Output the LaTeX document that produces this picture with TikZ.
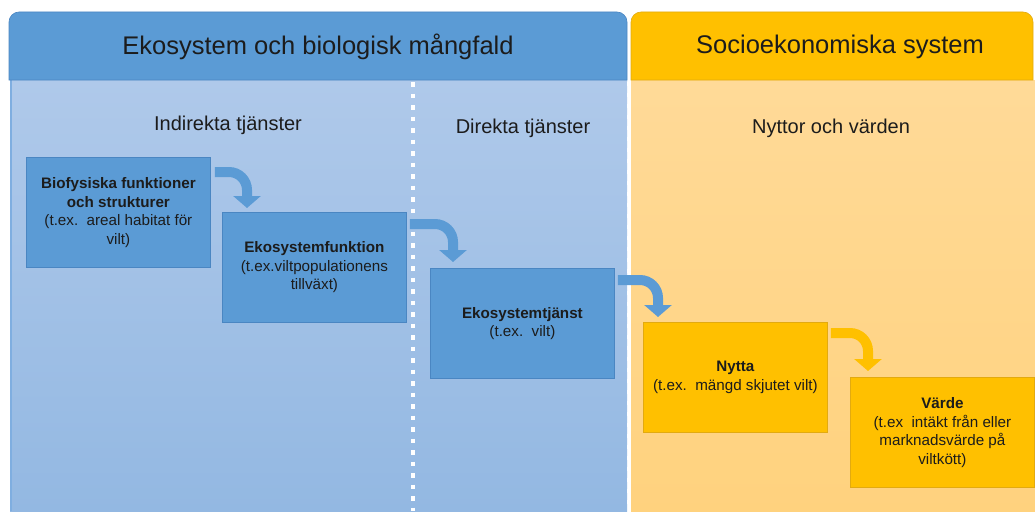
\documentclass[tikz,border=0pt]{standalone}
\usepackage{fontspec}
\setmainfont{Liberation Sans}
\usepackage{tikz}
\usetikzlibrary{arrows.meta,positioning}
\definecolor{blueHead}{HTML}{5B9BD5}
\definecolor{blueLine}{HTML}{4A86C2}
\definecolor{blueTop}{HTML}{AFC9EA}
\definecolor{blueBot}{HTML}{93B8E2}
\definecolor{blueEdge}{HTML}{7FAEE0}
\definecolor{yelHead}{HTML}{FFC000}
\definecolor{yelLine}{HTML}{E2AA10}
\definecolor{yelTop}{HTML}{FFDA98}
\definecolor{yelBot}{HTML}{FFD27E}
\definecolor{txt}{HTML}{1C1C1C}
\tikzset{
  panelhead/.style={font=\fontsize{25.5}{30}\selectfont, text=txt},
  subhead/.style={font=\fontsize{20}{24}\selectfont, text=txt},
  tbox/.style={minimum width=184pt, minimum height=110pt, anchor=north west,
    align=center, inner sep=2pt, text=txt,
    font=\fontsize{15.2}{18.5}\selectfont},
  bluebox/.style={tbox, fill=blueHead, draw=blueLine, line width=0.8pt},
  yelbox/.style={tbox, fill=yelHead, draw=yelLine, line width=0.8pt},
  flow/.style={line width=10pt, rounded corners=18pt,
    -{Triangle[width=27pt,length=12pt]}},
  divider/.style={white, line width=4.5pt, dash pattern=on 4.5pt off 7pt},
}

\begin{document}
\begin{tikzpicture}[x=1pt,y=-1pt]
\useasboundingbox (0,0) rectangle (1035,511);
% panels
\shade[top color=blueTop, bottom color=blueBot]
  (10,80) rectangle (627,511);
\draw[blueEdge, line width=2pt] (11,80) -- (11,511);
\filldraw[fill=blueHead, draw=blueLine, line width=0.6pt]
  (9,80) [rounded corners=10pt] -- (9,12) -- (627,12) [sharp corners] -- (627,80) -- cycle;
\shade[top color=yelTop, bottom color=yelBot]
  (631,80) rectangle (1035,511);
\filldraw[fill=yelHead, draw=yelLine, line width=0.6pt]
  (631,80) [rounded corners=10pt] -- (631,12) -- (1033,12) [sharp corners] -- (1033,80) -- cycle;
\draw[divider] (413,82) -- (413,511);
\draw[divider, line width=4pt, dash pattern=on 4pt off 7pt] (629,82) -- (629,511);
% titles
\node[panelhead] (ekoTitle) at (318,47) {Ekosystem och biologisk mångfald};
\node[panelhead] (socTitle) at (840,47) {Socioekonomiska system};
\node[subhead] (indirekta) at (228,125) {Indirekta tjänster};
\node[subhead] (direkta) at (523,128) {Direkta tjänster};
\node[subhead] (nyttor) at (831,128) {Nyttor och värden};
% boxes
\node[bluebox] (biofys) at (26,157)
  {\textbf{Biofysiska funktioner}\\\textbf{och strukturer}\\(t.ex.\ \ areal habitat för\\vilt)};
\node[bluebox] (ekofunk) at (222,212)
  {\textbf{Ekosystemfunktion}\\(t.ex.viltpopulationens\\tillväxt)};
\node[bluebox] (ekotj) at (430,268)
  {\textbf{Ekosystemtjänst}\\(t.ex.\ \ vilt)};
\node[yelbox] (nytta) at (643,322)
  {\textbf{Nytta}\\(t.ex.\ \ mängd skjutet vilt)};
\node[yelbox] (varde) at (850,377)
  {\textbf{Värde}\\(t.ex\ \ intäkt från eller\\marknadsvärde på\\viltkött)};
% arrows
\draw[flow, blueHead]
  ([xshift=4pt,yshift=-15pt]biofys.north east) -| ([xshift=25pt,yshift=4pt]ekofunk.north west);
\draw[flow, blueHead]
  ([xshift=3pt,yshift=-12pt]ekofunk.north east) -| ([xshift=23pt,yshift=6pt]ekotj.north west);
\draw[flow, blueHead]
  ([xshift=3pt,yshift=-12pt]ekotj.north east) -| ([xshift=15pt,yshift=5pt]nytta.north west);
\draw[flow, yelHead]
  ([xshift=3pt,yshift=-11pt]nytta.north east) -| ([xshift=18pt,yshift=6pt]varde.north west);
\end{tikzpicture}
\end{document}
